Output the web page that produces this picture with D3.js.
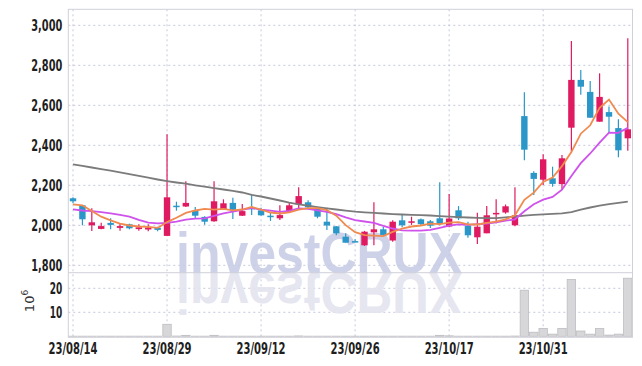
<!DOCTYPE html>
<html><head><meta charset="utf-8">
<script src="https://cdn.jsdelivr.net/npm/d3@7"></script>
<style>
html,body{margin:0;padding:0;background:#fff;}
svg{display:block;}
.lbl{font-family:"Liberation Sans Narrow","Arial Narrow","DejaVu Sans Condensed",sans-serif;font-weight:bold;fill:#1e1e1e;font-size:16px;}
</style></head><body>
<svg id="chart" width="642" height="366"></svg>
<script>
const dates = ["23/08/14","23/08/16","23/08/17","23/08/18","23/08/21","23/08/22","23/08/23","23/08/24","23/08/25","23/08/28",
"23/08/29","23/08/30","23/08/31","23/09/01","23/09/04","23/09/05","23/09/06","23/09/07","23/09/08","23/09/11",
"23/09/12","23/09/13","23/09/14","23/09/15","23/09/18","23/09/19","23/09/20","23/09/21","23/09/22","23/09/25",
"23/09/26","23/09/27","23/10/04","23/10/05","23/10/06","23/10/10","23/10/11","23/10/12","23/10/13","23/10/16",
"23/10/17","23/10/18","23/10/19","23/10/20","23/10/23","23/10/24","23/10/25","23/10/26","23/10/27","23/10/30",
"23/10/31","23/11/01","23/11/02","23/11/03","23/11/06","23/11/07","23/11/08","23/11/09","23/11/10","23/11/13"];
const openP = [2135,2100,2000,1982,2012,1987,2005,1981,1979,1988,
1947,2098,2094,2073,2042,2020,2080,2112,2048,2088,
2075,2048,2035,2068,2105,2115,2085,2018,1995,1943,
1921,1900,1965,1980,1924,2025,2014,2030,2020,2035,
1994,2075,1998,1940,1960,2056,2064,2000,2546,2262,
2228,2235,2206,2488,2727,2667,2518,2566,2486,2435];
const highP = [2140,2100,2085,2013,2035,2010,2008,2005,2005,1993,
2455,2118,2220,2092,2045,2220,2130,2138,2106,2155,
2088,2062,2100,2115,2190,2125,2092,2088,1997,1960,
1930,1972,2115,1993,2025,2055,2043,2034,2026,2215,
2157,2096,2018,2063,2096,2130,2104,2190,2665,2270,
2355,2293,2352,2922,2777,2722,2760,2594,2530,2935];
const lowP = [2110,2000,1972,1980,1980,1973,1980,1973,1970,1970,
1947,2073,2092,2032,2003,2018,2078,2032,2046,2052,
2048,2022,2027,2062,2082,2082,2035,1977,1950,1913,
1915,1897,1900,1950,1918,1990,2002,2000,1986,2000,
1990,2026,1938,1907,1960,2010,2058,1995,2325,2152,
2202,2193,2177,2370,2653,2538,2518,2463,2340,2373];
const closeP = [2120,2030,2015,1996,2002,1996,1985,1990,1989,1977,
2140,2092,2112,2048,2018,2120,2110,2077,2071,2080,
2050,2043,2051,2100,2146,2090,2043,1999,1960,1913,
1917,1968,1980,1952,2018,2000,2020,2006,1998,2006,
2034,2035,1950,1993,2050,2062,2095,2050,2378,2232,
2330,2207,2335,2727,2693,2538,2642,2543,2375,2480];
const volume = [0.05,0.05,0.05,0.05,0.05,0.05,0.05,0.05,0.05,0.05,
5.0,0.1,0.4,0.05,0.05,0.4,0.05,0.05,0.05,0.05,
0.05,0.05,0.05,0.05,0.15,0.05,0.05,0.05,0.05,0.05,
0.05,0.05,0.05,0.05,0.05,0.05,0.05,0.05,0.05,0.4,
0.2,0.05,0.05,0.05,0.05,0.05,0.05,0.1,19.2,1.7,
3.3,0.9,3.3,23.7,2.2,0.9,3.3,0.5,0.9,24.2];
const ma5 = [2105,2100,2071,2043,2025,2008,1999,1994,1992,1987,
2016,2038,2062,2074,2082,2078,2082,2075,2079,2092,
2078,2064,2059,2065,2078,2086,2086,2076,2048,2001,
1966,1951,1948,1946,1967,1984,1994,1999,2008,2006,
2013,2016,2005,2004,2012,2018,2030,2050,2127,2163,
2217,2239,2296,2366,2458,2500,2587,2629,2558,2516];
const ma10 = [2080,2074,2071,2066,2060,2052,2043,2027,2013,2010,
2012,2018,2028,2033,2035,2047,2060,2068,2077,2087,
2078,2073,2067,2072,2085,2082,2075,2067,2056,2040,
2026,2019,2012,1997,1984,1975,1973,1973,1977,1987,
1998,2005,2002,2006,2009,2015,2023,2030,2070,2105,
2128,2142,2178,2247,2311,2359,2413,2463,2462,2487];
const maLong = [2305,2297,2289,2281,2273,2265,2256,2247,2238,2229,
2221,2214,2208,2200,2193,2186,2179,2172,2164,2152,
2144,2134,2124,2113,2105,2098,2091,2085,2079,2073,
2068,2065,2062,2059,2056,2054,2052,2051,2049,2046,
2043,2041,2039,2037,2036,2036,2040,2043,2048,2052,
2055,2057,2060,2066,2078,2089,2098,2106,2112,2118];
const priceTicks = [1800,2000,2200,2400,2600,2800,3000];
const volTicks = [10,20];
const xTickIdx = [0,10,20,30,40,50];

const L=68.3, R=632.5, T=9.3, PB=272.7, VB=337.3;
const svg = d3.select("#chart");
const idx = d3.range(dates.length);
const x = d3.scaleBand().domain(idx).range([L,R]).padding(0);
const cx = i => x(i) + x.bandwidth()/2;
const y = d3.scaleLinear().domain([1763,3080]).range([PB,T]);
const yv = d3.scaleLinear().domain([0,26.5]).range([VB-1,PB]);

const gridCol = "#c5c8dc";
const grid = svg.append("g");
grid.selectAll("line.h").data(priceTicks).join("line")
  .attr("x1",L).attr("x2",R).attr("y1",d=>y(d)).attr("y2",d=>y(d))
  .attr("stroke",gridCol).attr("stroke-dasharray","2,3");
grid.selectAll("line.v").data(volTicks).join("line")
  .attr("x1",L).attr("x2",R).attr("y1",d=>yv(d)).attr("y2",d=>yv(d))
  .attr("stroke",gridCol).attr("stroke-dasharray","2,3");
grid.selectAll("line.x").data(xTickIdx).join("line")
  .attr("x1",d=>cx(d)).attr("x2",d=>cx(d)).attr("y1",T).attr("y2",VB)
  .attr("stroke",gridCol).attr("stroke-dasharray","2,3");

// watermark + reflection
const wm = svg.append("g").attr("pointer-events","none");
wm.append("text").attr("x",176).attr("y",273)
  .attr("textLength",286).attr("lengthAdjust","spacingAndGlyphs")
  .style("font-family","Liberation Sans, Arial, sans-serif").style("font-weight","bold").style("font-size","57px")
  .attr("fill","#c6cbe4").attr("opacity",0.85).text("investCRUX");
wm.append("text").attr("x",176).attr("y",-273).attr("transform","scale(1,-1)")
  .attr("textLength",286).attr("lengthAdjust","spacingAndGlyphs")
  .style("font-family","Liberation Sans, Arial, sans-serif").style("font-weight","bold").style("font-size","57px")
  .attr("fill","#e3e4ee").attr("opacity",0.9).text("investCRUX");

// volume
svg.append("g").selectAll("rect").data(idx).join("rect")
  .attr("x",i=>x(i)+0.5).attr("width",x.bandwidth()-1)
  .attr("y",i=>yv(volume[i])).attr("height",i=>yv(0)-yv(volume[i]))
  .attr("fill","#d7d7d9").attr("stroke","#bdbdc2").attr("stroke-width",0.8);

// candles
const up="#e01a60", dn="#2a97c8";
const cg = svg.append("g");
const col = i => closeP[i]>=openP[i]?up:dn;
cg.selectAll("line").data(idx).join("line")
  .attr("x1",cx).attr("x2",cx).attr("y1",i=>y(highP[i])).attr("y2",i=>y(lowP[i]))
  .attr("stroke",col).attr("stroke-width",1.2);
const bw=6.4;
cg.selectAll("rect").data(idx).join("rect")
  .attr("x",i=>cx(i)-bw/2).attr("width",bw)
  .attr("y",i=>y(Math.max(openP[i],closeP[i])))
  .attr("height",i=>Math.max(1.5,Math.abs(y(openP[i])-y(closeP[i]))))
  .attr("fill",col);

// moving averages
const line = arr => d3.line().x(i=>cx(i)).y(i=>y(arr[i]))(idx);
svg.append("path").attr("d",line(maLong)).attr("fill","none").attr("stroke","#7b7b7b").attr("stroke-width",1.8);
svg.append("path").attr("d",line(ma10)).attr("fill","none").attr("stroke","#cf52ec").attr("stroke-width",1.8);
svg.append("path").attr("d",line(ma5)).attr("fill","none").attr("stroke","#f08a4f").attr("stroke-width",1.8);

// frame
svg.append("rect").attr("x",L).attr("y",T).attr("width",R-L).attr("height",VB-T)
  .attr("fill","none").attr("stroke","#cfd0da");
svg.append("line").attr("x1",L).attr("x2",R).attr("y1",PB).attr("y2",PB).attr("stroke","#cfd0da");

// axes
const ay = svg.append("g").attr("transform",`translate(${L},0)`)
  .call(d3.axisLeft(y).tickValues(priceTicks).tickFormat(d3.format(",")).tickSize(0).tickPadding(6));
const av = svg.append("g").attr("transform",`translate(${L},0)`)
  .call(d3.axisLeft(yv).tickValues(volTicks).tickFormat(d3.format("d")).tickSize(0).tickPadding(6));
const ax = svg.append("g").attr("transform",`translate(0,${VB})`)
  .call(d3.axisBottom(x).tickValues(xTickIdx).tickFormat(i=>dates[i]).tickSize(0).tickPadding(5));
[ay,av,ax].forEach(g=>{g.select(".domain").remove(); g.selectAll("text").attr("class","lbl").attr("fill",null);});
ay.selectAll("text").attr("textLength",31).attr("lengthAdjust","spacingAndGlyphs");
av.selectAll("text").attr("textLength",12.5).attr("lengthAdjust","spacingAndGlyphs");
ax.selectAll("text").attr("textLength",49).attr("lengthAdjust","spacingAndGlyphs");

// 10^6 unit
const u = svg.append("text").attr("transform","translate(34,301) rotate(-90)")
  .attr("text-anchor","middle").style("font-family","DejaVu Sans, sans-serif").style("font-size","13px").attr("fill","#333");
u.append("tspan").text("10");
u.append("tspan").attr("dy",-6).style("font-size","9px").text("6");
</script>
</body></html>
